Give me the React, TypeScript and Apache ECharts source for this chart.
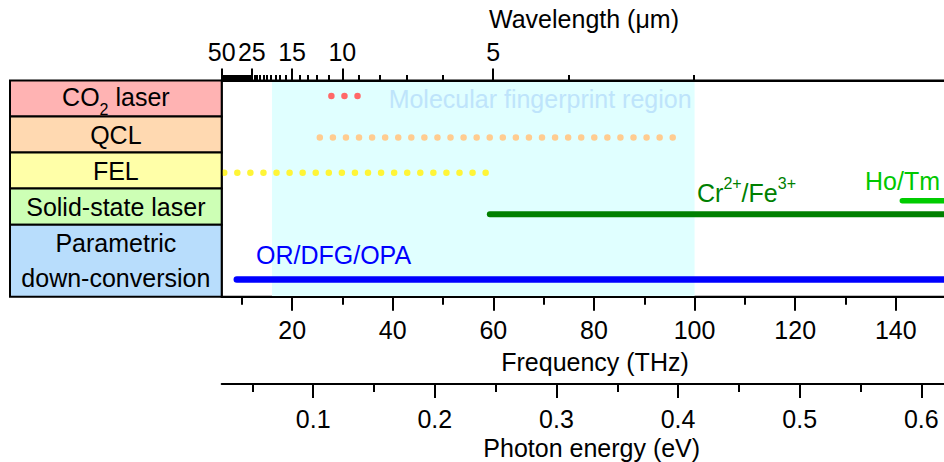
import React, { useEffect, useRef } from "react";
import * as echarts from "echarts";

// λ(µm) × f(THz) = c
const C_UM_THZ = 299.792458;
// 1 eV expressed in THz
const THZ_PER_EV = 241.799;

// Frequency window of the plot (THz): left edge sits at 50 µm
const FREQ_MIN = C_UM_THZ / 50;
const FREQ_MAX = 160;

// Source families shown in the left-hand table
const sourceNames = [
  "CO{sub|2} laser",
  "QCL",
  "FEL",
  "Solid-state laser",
  "Parametric\ndown-conversion",
];
const sourceFills = ["#ffb3b3", "#ffd9b1", "#ffffa8", "#cdffb5", "#b8ddfc"];

// Spectral coverage of each source (THz)
const co2Range = [27.8, 33.05];
const qclRange = [25.5, 96.0];
const felRange = [6.5, 58.5];
const crFeRange = [59.3, 200];
const hoTmRange = [141.3, 200];
const pdcRange = [9.0, 200];
const fingerprintRange = [16, 100];

// Axis ticks
const freqMajor = [20, 40, 60, 80, 100, 120, 140];
const freqMinor = [10, 30, 50, 70, 90, 110, 130, 150];
const wavelengthMajor = [50, 25, 15, 10, 5];
const wavelengthMinor = [
  2, 3, 4, 5, 6, 7, 8, 9, 10, 11, 12, 13, 14, 15, 16, 17, 18, 19, 20, 21, 22,
  23, 24, 25, 26, 27, 28, 29, 30, 31, 32, 33, 34, 35, 36, 37, 38, 39, 40, 41,
  42, 43, 44, 45, 46, 47, 48, 49, 50,
];
const energyMajor = [0.1, 0.2, 0.3, 0.4, 0.5, 0.6];
const energyMinor = [0.05, 0.15, 0.25, 0.35, 0.45, 0.55, 0.65];

const FONT = "'Liberation Sans', Arial, Helvetica, sans-serif";
const FS = 25;

// The drawing runs on past the right edge of the 944px frame
const FRAME_W = 944;
const FRAME_H = 462;
const CHART_W = 1000;

const toFreq = (lambdaUm: number) => C_UM_THZ / lambdaUm;

function axis(opts: {
  position: "top" | "bottom";
  min: number;
  max: number;
  ticks: number[];
  tickLen: number;
  labels?: number[];
  formatter?: (v: number) => string;
  margin?: number;
  line?: boolean;
  offset?: number;
}) {
  return {
    type: "value",
    gridIndex: 0,
    position: opts.position,
    offset: opts.offset ?? 0,
    min: opts.min,
    max: opts.max,
    z: 5,
    splitLine: { show: false },
    axisLine: {
      show: !!opts.line,
      onZero: false,
      lineStyle: { color: "#000", width: 2 },
    },
    axisTick: {
      show: true,
      inside: false,
      length: opts.tickLen,
      customValues: opts.ticks,
      lineStyle: { color: "#000", width: 2 },
    },
    axisLabel: opts.labels
      ? {
          show: true,
          customValues: opts.labels,
          formatter: opts.formatter,
          margin: opts.margin,
          color: "#000",
          fontSize: FS,
          fontFamily: FONT,
        }
      : { show: false },
  };
}

function rangeLine(
  range: number[],
  lane: number,
  color: string,
  width: number,
  dotted: boolean
) {
  return {
    type: "line",
    xAxisIndex: 0,
    yAxisIndex: 0,
    silent: true,
    symbol: "none",
    clip: true,
    data: [
      [range[0], lane],
      [range[1], lane],
    ],
    lineStyle: {
      color,
      width,
      cap: "round",
      type: dotted ? [0, 13.07] : "solid",
    },
  };
}

function buildOption() {
  const eMin = FREQ_MIN / THZ_PER_EV;
  const eMax = FREQ_MAX / THZ_PER_EV;
  return {
    animation: false,
    backgroundColor: "#ffffff",
    grid: {
      left: 221.7,
      top: 80.5,
      right: CHART_W - 996.4,
      bottom: 165.3,
      containLabel: false,
      outerBoundsMode: "none",
      show: true,
      borderColor: "#000",
      borderWidth: 2,
      backgroundColor: "transparent",
    },
    xAxis: [
      axis({
        position: "bottom",
        min: FREQ_MIN,
        max: FREQ_MAX,
        ticks: freqMajor,
        tickLen: 14,
        labels: freqMajor,
        formatter: (v: number) => String(Math.round(v)),
        margin: 21,
        line: true,
      }),
      axis({
        position: "bottom",
        min: FREQ_MIN,
        max: FREQ_MAX,
        ticks: freqMinor,
        tickLen: 8,
      }),
      axis({
        position: "top",
        min: FREQ_MIN,
        max: FREQ_MAX,
        ticks: wavelengthMajor.map(toFreq),
        tickLen: 12,
        labels: wavelengthMajor.map(toFreq),
        formatter: (v: number) => String(Math.round(C_UM_THZ / v)),
        margin: 16,
        line: true,
      }),
      axis({
        position: "top",
        min: FREQ_MIN,
        max: FREQ_MAX,
        ticks: wavelengthMinor.map(toFreq),
        tickLen: 5.5,
      }),
      axis({
        position: "bottom",
        offset: 87.3,
        min: eMin,
        max: eMax,
        ticks: energyMajor,
        tickLen: 14,
        labels: energyMajor,
        formatter: (v: number) => v.toFixed(1),
        margin: 22,
        line: true,
      }),
      axis({
        position: "bottom",
        offset: 87.3,
        min: eMin,
        max: eMax,
        ticks: energyMinor,
        tickLen: 8,
      }),
    ],
    yAxis: [
      {
        type: "value",
        gridIndex: 0,
        min: 0,
        max: 6,
        inverse: true,
        show: false,
      },
    ],
    series: [
      {
        type: "line",
        xAxisIndex: 0,
        yAxisIndex: 0,
        silent: true,
        data: [],
        markArea: {
          silent: true,
          itemStyle: { color: "#e0ffff" },
          label: {
            show: true,
            position: "insideTopRight",
            distance: 3,
            offset: [0, 3],
            color: "#bee4fb",
            fontSize: FS,
            fontFamily: FONT,
          },
          data: [
            [
              { name: "Molecular fingerprint region", xAxis: fingerprintRange[0] },
              { xAxis: fingerprintRange[1] },
            ],
          ],
        },
      },
      rangeLine(co2Range, 0.43, "#ff6868", 6.5, true),
      rangeLine(qclRange, 1.58, "#ffcc90", 6.5, true),
      rangeLine(felRange, 2.56, "#fff536", 6.5, true),
      rangeLine(crFeRange, 3.71, "#008000", 6, false),
      rangeLine(hoTmRange, 3.34, "#00cc00", 5.5, false),
      rangeLine(pdcRange, 5.52, "#0000ff", 6.5, false),
    ],
    graphic: [],
  };
}

function plainText(
  text: string,
  x: number,
  y: number,
  fill: string,
  align: "left" | "center" = "center",
  rich?: Record<string, unknown>
) {
  return {
    type: "text",
    x,
    y,
    silent: true,
    z: 10,
    style: {
      text,
      fill,
      fontSize: FS,
      fontFamily: FONT,
      align,
      verticalAlign: "middle",
      textAlign: align,
      textVerticalAlign: "middle",
      lineHeight: 35,
      rich,
    },
  };
}

export default function App() {
  const ref = useRef<HTMLDivElement>(null);

  useEffect(() => {
    const el = ref.current;
    if (!el) return;
    const chart = echarts.init(el, null, { renderer: "svg" });
    chart.setOption(buildOption());

    // Left-hand table rows follow the hidden y scale of the grid
    const sourceRows = [
      [0, 1],
      [1, 2],
      [2, 3],
      [3, 4],
      [4, 6],
    ];
    const gridLeft = chart.convertToPixel({ xAxisIndex: 0 }, FREQ_MIN) as number;
    const tableLeft = 10;
    const cells: any[] = [];
    sourceNames.forEach((name, i) => {
      const y0 = chart.convertToPixel({ yAxisIndex: 0 }, sourceRows[i][0]) as number;
      const y1 = chart.convertToPixel({ yAxisIndex: 0 }, sourceRows[i][1]) as number;
      cells.push({
        type: "rect",
        silent: true,
        z: 8,
        shape: { x: tableLeft, y: y0, width: gridLeft - tableLeft, height: y1 - y0 },
        style: { fill: sourceFills[i], stroke: "#000", lineWidth: 2 },
      });
      const isCo2 = i === 0;
      cells.push(
        plainText(
          name,
          (tableLeft + gridLeft) / 2,
          (y0 + y1) / 2 + (isCo2 ? -1.5 : 0),
          "#000",
          "center",
          isCo2
            ? { sub: { fontSize: 16, fontFamily: FONT, padding: [24, 0, 0, 0] } }
            : undefined
        )
      );
    });

    const sup = { sup: { fontSize: 16, fontFamily: FONT, padding: [0, 0, 20, 0] } };
    chart.setOption({
      graphic: [
        ...cells,
        plainText("Wavelength (μm)", 584, 19.2, "#000"),
        plainText("Frequency (THz)", 595, 361.7, "#000"),
        plainText("Photon energy (eV)", 591.7, 448, "#000"),
        plainText("Cr{sup|2+}/Fe{sup|3+}", 697, 193, "#008000", "left", sup),
        plainText("Ho/Tm", 865, 181, "#00c800", "left"),
        plainText("OR/DFG/OPA", 256, 254.5, "#0000ff", "left"),
      ],
    });

    return () => {
      chart.dispose();
    };
  }, []);

  return (
    <div
      style={{
        position: "absolute",
        left: 0,
        top: 0,
        width: FRAME_W,
        height: FRAME_H,
        overflow: "hidden",
        background: "#fff",
      }}
    >
      <div ref={ref} style={{ width: CHART_W, height: FRAME_H }} />
    </div>
  );
}
